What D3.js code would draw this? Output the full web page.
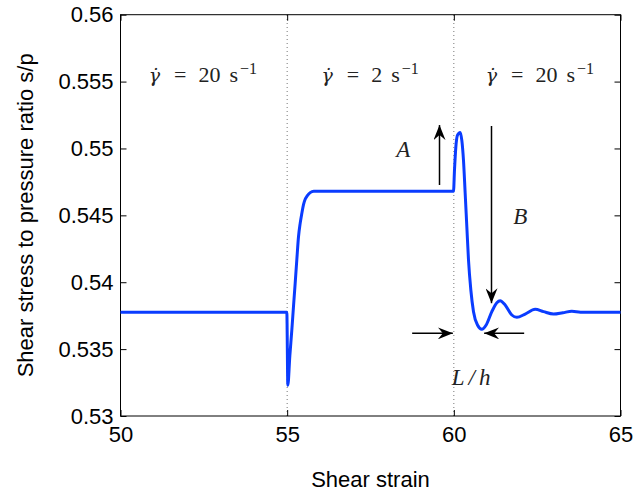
<!DOCTYPE html>
<html>
<head>
<meta charset="utf-8">
<script src="https://cdn.jsdelivr.net/npm/d3@7"></script>
<style>
  html, body { margin: 0; padding: 0; background: #fff; }
  svg { display: block; }
</style>
</head>
<body>
<svg id="chart" width="636" height="493"></svg>
<script>
// Shear strain and the resulting stress ratio s/p across the rate steps
const strain = [50, 54.99, 55.02, 55.08, 55.14, 55.19, 55.24, 55.29, 55.34, 55.39, 55.44, 55.49,
  55.54, 55.6, 55.69, 55.8, 56.0, 59.99, 60.02, 60.06, 60.11, 60.19, 60.24, 60.29, 60.34, 60.39,
  60.44, 60.51, 60.59, 60.71, 60.84, 60.97, 61.14, 61.29, 61.39, 61.54, 61.74, 61.89, 62.14,
  62.44, 62.69, 62.99, 63.27, 63.54, 63.8, 64.09, 65];
const ratio = [0.53775, 0.53775, 0.5323, 0.5345, 0.53643, 0.5382, 0.53992, 0.5417, 0.5434, 0.5444,
  0.54515, 0.5458, 0.5462, 0.54645, 0.5467, 0.5468, 0.5468, 0.5468, 0.5484, 0.5501, 0.5510,
  0.5512, 0.5506, 0.5491, 0.54665, 0.54415, 0.54166, 0.53942, 0.5378, 0.5368, 0.53648, 0.5368,
  0.5378, 0.53847, 0.53862, 0.5383, 0.53755, 0.53738, 0.53762, 0.53798, 0.5378, 0.53762,
  0.53772, 0.53783, 0.53776, 0.53775, 0.53775];

const xTicks = [50, 55, 60, 65];
const yTicks = [0.53, 0.535, 0.54, 0.545, 0.55, 0.555, 0.56];

// Shear-rate steps (strain where each begins, rate in 1/s)
const stepStrains = [55, 60];
const rateLabelStrain = [52.47, 57.49, 62.58];
const rates = [20, 2, 20];

// Annotation arrows: [x1, y1, x2, y2] from tail to head
const arrowA = [59.57, 0.54727, 59.57, 0.55175];
const arrowB = [61.13, 0.55168, 61.13, 0.53843];
const arrowL1 = [58.75, 0.53618, 59.97, 0.53618];
const arrowL2 = [62.11, 0.53618, 60.91, 0.53618];
const noteLabels = [
  {text: "A", x: 58.48, y: 0.5499},
  {text: "B", x: 61.99, y: 0.54488}
];
const lhLabel = {x: 60.52, y: 0.53291};

const svg = d3.select("#chart");
const margin = {left: 120.5, right: 15.5, top: 14.7, bottom: 77};
const W = 636, H = 493;

const x = d3.scaleLinear().domain([50, 65]).range([margin.left, W - margin.right]);
const y = d3.scaleLinear().domain([0.53, 0.56]).range([H - margin.bottom, margin.top]);

const sans = "'Liberation Sans', Arial, Helvetica, sans-serif";
const serif = "'Liberation Serif', 'DejaVu Serif', serif";

// Rate-change markers
svg.append("g").selectAll("line").data(stepStrains).join("line")
  .attr("x1", d => x(d)).attr("x2", d => x(d))
  .attr("y1", y(0.53)).attr("y2", y(0.56))
  .attr("stroke", "#777").attr("stroke-width", 1)
  .attr("stroke-dasharray", "1,3");

// Axes with inward ticks on all four sides
const tickLen = 6;
const fmt = d3.format("~g");
const axisB = d3.axisBottom(x).tickValues(xTicks).tickSizeInner(-tickLen).tickSizeOuter(0).tickPadding(10);
const axisL = d3.axisLeft(y).tickValues(yTicks).tickSizeInner(-tickLen).tickSizeOuter(0).tickPadding(7).tickFormat(fmt);
const axisT = d3.axisTop(x).tickValues(xTicks).tickSizeInner(-tickLen).tickSizeOuter(0).tickFormat("");
const axisR = d3.axisRight(y).tickValues(yTicks).tickSizeInner(-tickLen).tickSizeOuter(0).tickFormat("");

function styleAxis(g) {
  g.select(".domain").remove();
  g.selectAll("line").attr("stroke", "#000");
  g.selectAll("text").attr("font-family", sans).attr("font-size", 22).attr("fill", "#000");
}
svg.append("g").attr("transform", `translate(0,${y(0.53)})`).call(axisB).call(styleAxis);
svg.append("g").attr("transform", `translate(${x(50)},0)`).call(axisL).call(styleAxis);
svg.append("g").attr("transform", `translate(0,${y(0.56)})`).call(axisT).call(styleAxis);
svg.append("g").attr("transform", `translate(${x(65)},0)`).call(axisR).call(styleAxis);

// Frame
svg.append("rect")
  .attr("x", x(50)).attr("y", y(0.56))
  .attr("width", x(65) - x(50)).attr("height", y(0.53) - y(0.56))
  .attr("fill", "none").attr("stroke", "#000").attr("stroke-width", 1);

// Stress-ratio response
const pts = strain.map((s, i) => [s, ratio[i]]);
svg.append("path")
  .datum(pts)
  .attr("fill", "none")
  .attr("stroke", "#0a3cff")
  .attr("stroke-width", 3)
  .attr("stroke-linejoin", "round")
  .attr("d", d3.line().x(d => x(d[0])).y(d => y(d[1])).curve(d3.curveMonotoneX));

// Arrow heads
const defs = svg.append("defs");
defs.append("marker")
  .attr("id", "head")
  .attr("viewBox", "0 0 15 12")
  .attr("refX", 15).attr("refY", 6)
  .attr("markerWidth", 15).attr("markerHeight", 12)
  .attr("markerUnits", "userSpaceOnUse")
  .attr("orient", "auto")
  .append("path")
  .attr("d", "M0,0 L15,6 L0,12 L5,6 Z")
  .attr("fill", "#000");

[arrowA, arrowB, arrowL1, arrowL2].forEach(a => {
  svg.append("line")
    .attr("x1", x(a[0])).attr("y1", y(a[1]))
    .attr("x2", x(a[2])).attr("y2", y(a[3]))
    .attr("stroke", "#000").attr("stroke-width", 1.5)
    .attr("marker-end", "url(#head)");
});

// Italic letter labels
svg.append("g").selectAll("text").data(noteLabels).join("text")
  .attr("x", d => x(d.x)).attr("y", d => y(d.y))
  .attr("text-anchor", "middle").attr("dominant-baseline", "central")
  .attr("font-family", serif).attr("font-style", "italic").attr("font-size", 23)
  .attr("fill", "#222")
  .text(d => d.text);

const lh = svg.append("text")
  .attr("x", x(lhLabel.x)).attr("y", y(lhLabel.y))
  .attr("text-anchor", "middle").attr("dominant-baseline", "central")
  .attr("font-family", serif).attr("font-style", "italic").attr("font-size", 23)
  .attr("fill", "#222");
lh.append("tspan").text("L");
lh.append("tspan").attr("dx", 4).text("/");
lh.append("tspan").attr("dx", 4).text("h");

// Shear-rate labels: γ̇ = r s⁻¹, centred on their strain
rates.forEach((r, i) => {
  const t = svg.append("text")
    .attr("x", 0).attr("y", y(0.555))
    .attr("font-family", serif).attr("font-size", 22).attr("fill", "#222");
  t.append("tspan")
    .attr("font-family", "'DejaVu Serif', serif").attr("font-style", "italic").attr("font-size", 19)
    .text("γ\u0307");
  t.append("tspan").attr("dx", 14).text("=");
  t.append("tspan").attr("dx", 12).text(String(r));
  t.append("tspan").attr("dx", 9).text("s");
  t.append("tspan").attr("dx", 2).attr("dy", -8).attr("font-size", 16).text("\u22121");
  const bb = t.node().getBBox();
  t.attr("x", x(rateLabelStrain[i]) - bb.width / 2 - bb.x);
});

// Axis titles
svg.append("text")
  .attr("x", (x(50) + x(65)) / 2).attr("y", 487)
  .attr("text-anchor", "middle")
  .attr("font-family", sans).attr("font-size", 22)
  .text("Shear strain");

svg.append("text")
  .attr("transform", `translate(33,${(y(0.53) + y(0.56)) / 2}) rotate(-90)`)
  .attr("text-anchor", "middle")
  .attr("font-family", sans).attr("font-size", 22)
  .text("Shear stress to pressure ratio s/p");
</script>
</body>
</html>
